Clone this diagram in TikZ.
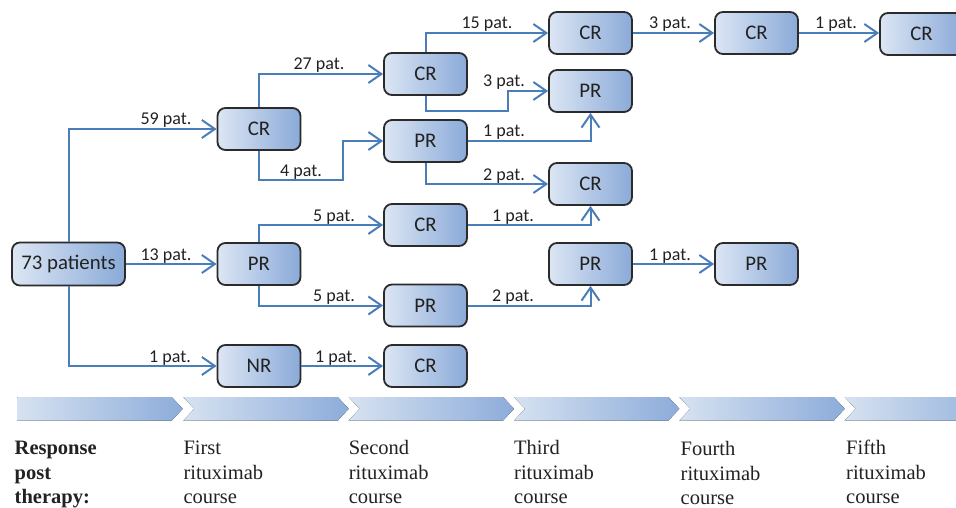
\documentclass[tikz,border=0pt]{standalone}
\usepackage{fontspec}
\setmainfont{Carlito}
\newfontfamily\serifx{Liberation Serif}
\usetikzlibrary{arrows.meta}
\definecolor{linkblue}{HTML}{4A7EBB}
\definecolor{boxleft}{HTML}{DCE6F4}
\definecolor{boxright}{HTML}{8AAAD8}
\definecolor{edgegray}{HTML}{2B2B2B}
\definecolor{txt}{HTML}{222222}
\definecolor{chevleft}{HTML}{D6E2F1}
\definecolor{chevright}{HTML}{8DACDA}
\begin{document}
\begin{tikzpicture}[x=1pt,y=-1pt,
 box/.style={draw=edgegray, line width=1.8pt, rounded corners=8pt, left color=boxleft, right color=boxright, minimum width=83pt, minimum height=42pt, inner sep=0pt, font=\fontsize{20.8}{24}\selectfont, text=txt},
 conn/.style={draw=linkblue, line width=2pt, -{Straight Barb[length=13pt,width=18pt]}},
 lab/.style={font=\fontsize{18}{20}\selectfont, text=txt, anchor=base, inner sep=0pt},
 chev/.style={left color=chevleft, right color=chevright, draw=none},
 captext/.style={font=\serifx\fontsize{20.5}{24.5}\selectfont, text=txt, anchor=base west, inner sep=0pt},
 capbold/.style={captext, font=\serifx\bfseries\fontsize{20.5}{24.5}\selectfont}
]
\useasboundingbox (0,0) rectangle (956,508);
\clip (0,0) rectangle (956,508);

% chevrons
\fill[chev] (17.3,397) -- (171.7,397) -- (182.7,408.8) -- (171.7,420.6) -- (17.3,420.6) -- cycle;
\foreach \L in {183.3,348.6,514,679.3,844.6}{
  \fill[chev] (\L,397) -- ({\L+154.4},397) -- ({\L+165.4},408.8) -- ({\L+154.4},420.6) -- (\L,420.6) -- ({\L+11},408.8) -- cycle;
}

% nodes
\node[box, minimum width=113pt, minimum height=43pt] (start) at (68.5,264) {73 patients};
\node[box] (cra) at (259,129) {CR};
\node[box] (pra) at (259,264) {PR};
\node[box] (nra) at (259,366) {NR};
\node[box] (crb1) at (425.5,74) {CR};
\node[box] (prb1) at (425.5,141) {PR};
\node[box] (crb2) at (425.5,225) {CR};
\node[box] (prb2) at (425.5,305.5) {PR};
\node[box] (crb3) at (425.5,366) {CR};
\node[box] (crc1) at (590.5,33) {CR};
\node[box] (prc1) at (590.5,91) {PR};
\node[box] (crc2) at (590.5,184) {CR};
\node[box] (prc2) at (590.5,264) {PR};
\node[box] (crd1) at (756.5,33) {CR};
\node[box] (prd1) at (756.5,264) {PR};
\node[box] (cre1) at (921.5,34) {CR};

% bend points
\coordinate (bendA) at (343,180);
\coordinate (bendB) at (508,111);

% connectors
\draw[conn] (start.north) |- (cra.west);
\draw[conn] (start.east) -- (pra.west);
\draw[conn] (start.south) |- (nra.west);
\draw[conn] (cra.north) |- (crb1.west);
\draw[conn] (cra.south) |- (bendA) |- (prb1.west);
\draw[conn] (pra.north) |- (crb2.west);
\draw[conn] (pra.south) |- (prb2.west);
\draw[conn] (nra.east) -- (crb3.west);
\draw[conn] (crb1.north) |- (crc1.west);
\draw[conn] (crb1.south) |- (bendB) |- (prc1.west);
\draw[conn] (prb1.east) -| (prc1.south);
\draw[conn] (prb1.south) |- (crc2.west);
\draw[conn] (crb2.east) -| (crc2.south);
\draw[conn] (prb2.east) -| (prc2.south);
\draw[conn] (crc1.east) -- (crd1.west);
\draw[conn] (prc2.east) -- (prd1.west);
\draw[conn] (crd1.east) -- (crd1.east -| cre1.west);

% labels
\node[lab] (l59) at (166,125) {59 pat.};
\node[lab] (l13) at (166,260) {13 pat.};
\node[lab] (l1a) at (170,362) {1 pat.};
\node[lab] (l27) at (319,70) {27 pat.};
\node[lab] (l4) at (301,176) {4 pat.};
\node[lab] (l5a) at (334,221) {5 pat.};
\node[lab] (l5b) at (334,301) {5 pat.};
\node[lab] (l1b) at (336,362) {1 pat.};
\node[lab] (l15) at (487,29) {15 pat.};
\node[lab] (l3a) at (504,87) {3 pat.};
\node[lab] (l1c) at (504,137) {1 pat.};
\node[lab] (l2a) at (504,180) {2 pat.};
\node[lab] (l1d) at (513,221) {1 pat.};
\node[lab] (l2b) at (513,301) {2 pat.};
\node[lab] (l3b) at (670,29) {3 pat.};
\node[lab] (l1e) at (670,260) {1 pat.};
\node[lab] (l1f) at (836,29) {1 pat.};

% captions
\node[capbold] (c0a) at (14.5,454) {Response};
\node[capbold] (c0b) at (14.5,479) {post};
\node[capbold] (c0c) at (14.5,503) {therapy:};
\foreach \x/\w/\dy [count=\k] in {183.3/First/0, 348.6/Second/0, 514/Third/0, 680.5/Fourth/1, 846/Fifth/0}{
  \node[captext] (c\k a) at (\x,454+\dy) {\w};
  \node[captext] (c\k b) at (\x,479+\dy) {rituximab};
  \node[captext] (c\k c) at (\x,503+\dy) {course};
}
\end{tikzpicture}
\end{document}
